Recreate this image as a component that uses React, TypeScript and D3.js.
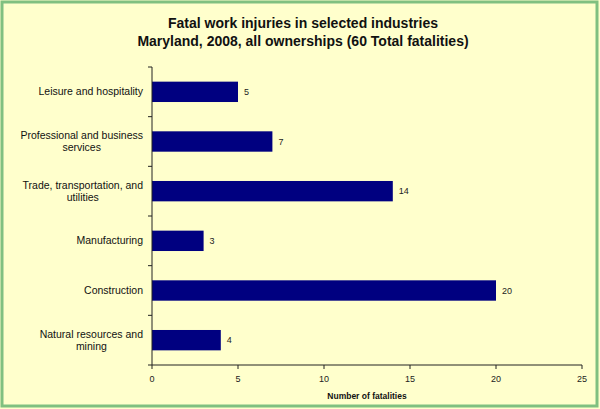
import * as d3 from "d3";

const TITLE_LINES = [
  "Fatal work injuries in selected industries",
  "Maryland, 2008, all ownerships (60 Total fatalities)",
];
const CATEGORIES = [
  ["Leisure and hospitality"],
  ["Professional and business", "services"],
  ["Trade, transportation, and", "utilities"],
  ["Manufacturing"],
  ["Construction"],
  ["Natural resources and", "mining"],
];
const FATALITIES = [5, 7, 14, 3, 20, 4];
const X_TICKS = [0, 5, 10, 15, 20, 25];
const X_TITLE = "Number of fatalities";

const WIDTH = 600;
const HEIGHT = 409;
const PLOT = { left: 152, right: 582, top: 67, bottom: 365 };
const FONT = "'Liberation Sans', Arial, sans-serif";
const LABEL_SIZE = 10.5;

const measure = (() => {
  const ctx = document.createElement("canvas").getContext("2d");
  return (text: string, size: number) => {
    if (!ctx) return text.length * size * 0.5;
    ctx.font = `${size}px 'Liberation Sans', Arial, sans-serif`;
    return ctx.measureText(text).width;
  };
})();

export default function App() {
  const xScale = d3
    .scaleLinear()
    .domain([0, 25])
    .range([PLOT.left, PLOT.right]);

  const yScale = d3
    .scaleBand<number>()
    .domain(d3.range(CATEGORIES.length))
    .range([PLOT.top, PLOT.bottom])
    .paddingInner(0.59)
    .paddingOuter(0.295);

  const step = yScale.step();
  const labelRight = PLOT.left - 9;

  return (
    <svg
      width={WIDTH}
      height={HEIGHT}
      style={{ position: "absolute", left: 0, top: 0, fontFamily: FONT }}
    >
      <rect x={0} y={0} width={WIDTH} height={HEIGHT} fill="#ffffcc" />
      <rect
        x={2}
        y={2}
        width={WIDTH - 5}
        height={HEIGHT - 5}
        fill="none"
        stroke="#80c080"
        strokeWidth={3}
      />

      {/* title */}
      {TITLE_LINES.map((line, i) => (
        <text
          key={i}
          x={303}
          y={28 + i * 18}
          textAnchor="middle"
          fontSize={14}
          fontWeight="bold"
          fill="#111"
        >
          {line}
        </text>
      ))}

      {/* bars */}
      {FATALITIES.map((v, i) => (
        <g key={i}>
          <rect
            x={xScale(0)}
            y={yScale(i)}
            width={xScale(v) - xScale(0)}
            height={yScale.bandwidth()}
            fill="#000080"
          />
          <text
            x={xScale(v) + 6}
            y={(yScale(i) ?? 0) + yScale.bandwidth() / 2 + 3}
            fontSize={9}
            fill="#222"
          >
            {v}
          </text>
        </g>
      ))}

      {/* y axis */}
      <line
        x1={PLOT.left}
        x2={PLOT.left}
        y1={PLOT.top}
        y2={PLOT.bottom}
        stroke="#222"
      />
      {d3.range(CATEGORIES.length + 1).map((i) => (
        <line
          key={i}
          x1={PLOT.left - 4}
          x2={PLOT.left}
          y1={PLOT.top + i * step}
          y2={PLOT.top + i * step}
          stroke="#222"
        />
      ))}
      {CATEGORIES.map((lines, i) => {
        const widths = lines.map((l) => measure(l, LABEL_SIZE));
        const blockW = Math.max(...widths);
        const cx = labelRight - blockW / 2;
        const cy = (yScale(i) ?? 0) + yScale.bandwidth() / 2;
        const lineH = 12;
        const y0 = cy - ((lines.length - 1) * lineH) / 2 + 3.5;
        return lines.map((l, j) => (
          <text
            key={`${i}-${j}`}
            x={cx}
            y={y0 + j * lineH}
            textAnchor="middle"
            fontSize={LABEL_SIZE}
            fill="#111"
          >
            {l}
          </text>
        ));
      })}

      {/* x axis */}
      <line
        x1={PLOT.left}
        x2={PLOT.right}
        y1={PLOT.bottom}
        y2={PLOT.bottom}
        stroke="#222"
      />
      {X_TICKS.map((t) => (
        <g key={t} transform={`translate(${xScale(t)}, ${PLOT.bottom})`}>
          <line y1={0} y2={4} stroke="#222" />
          <text y={17} textAnchor="middle" fontSize={9} fill="#222">
            {t}
          </text>
        </g>
      ))}
      <text
        x={(PLOT.left + PLOT.right) / 2}
        y={399}
        textAnchor="middle"
        fontSize={8.5}
        fontWeight="bold"
        fill="#111"
      >
        {X_TITLE}
      </text>
    </svg>
  );
}
